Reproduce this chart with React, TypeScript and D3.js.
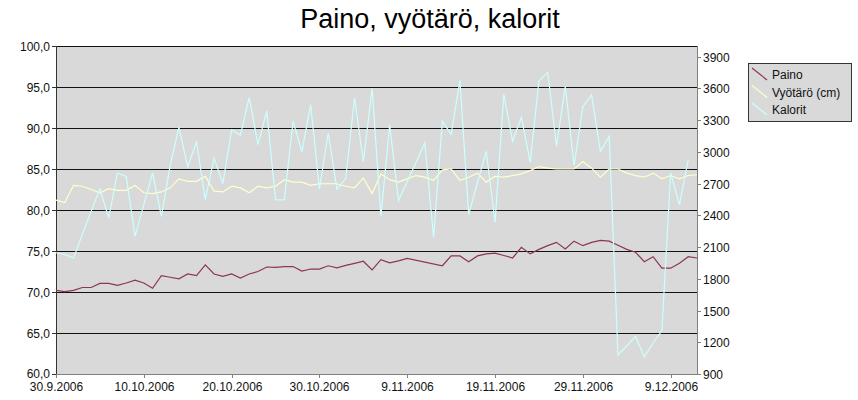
import React, { useEffect, useRef } from "react";
import * as d3 from "d3";

const startDate = new Date(2006, 8, 30);
const endDate = new Date(2006, 11, 12);

const paino: (number | null)[] = [
  70.2, 70.05, 70.2, 70.55, 70.55, 71.05, 71.05, 70.8, 71.1, 71.45,
  71.1, 70.45, 72.0, 71.8, 71.6, 72.2, 72.0, 73.3, 72.2, 71.9,
  72.2, 71.7, 72.2, 72.5, 73.05, 73.0, 73.1, 73.1, 72.55, 72.8,
  72.8, 73.2, 72.95, 73.25, 73.5, 73.75, 72.7, 73.95, 73.55, 73.8,
  74.1, null, null, null, 73.2, 74.4, 74.4, 73.7, 74.4, 74.65,
  74.75, 74.45, 74.15, 75.45, 74.65, 75.2, 75.65, 76.05, 75.25, 76.2,
  75.65, 76.05, 76.3, 76.2, 75.7, 75.2, 74.85, 73.7, 74.3, 72.9,
  72.9, 73.5, 74.3, 74.15,
];

const vyotaro: (number | null)[] = [
  81.2, 80.9, 83.0, 82.9, 82.5, 82.1, 82.6, 82.4, 82.4, 83.0,
  82.1, 82.0, 82.2, 82.7, 83.8, 83.5, 83.5, 84.1, 82.3, 82.2,
  82.9, 82.7, 82.1, 82.9, 82.7, 82.9, 83.7, 83.4, 83.4, 83.0,
  83.2, 83.2, 83.2, 82.9, 82.7, 83.9, 82.0, 84.4, 83.7, 83.4,
  83.8, 84.2, 84.0, 83.6, 84.9, 85.0, 83.6, 84.0, 84.5, 83.4,
  84.1, 84.0, 84.2, 84.4, 84.8, 85.3, 85.1, 85.0, 85.0, 85.0,
  85.9, 85.1, 84.0, 85.0, 85.0, 84.5, 84.2, 84.0, 84.5, 83.8,
  84.2, 83.8, 84.2, 84.3,
];

const kalorit: (number | null)[] = [
  2046, 2028, 1996, 2220, 2437, 2650, 2374, 2800, 2767, 2200,
  2500, 2800, 2390, 2870, 3232, 2855, 3098, 2547, 2940, 2700,
  3209, 3157, 3515, 3067, 3385, 2547, 2545, 3290, 3000, 3445,
  2650, 3178, 2646, 2750, 3511, 2906, 3600, 2390, 3256, 2540,
  2720, 2900, 3083, 2190, 3290, 3165, 3675, 2406, 2710, 3004,
  2335, 3543, 3100, 3327, 2900, 3670, 3752, 3050, 3620, 2870,
  3426, 3538, 3004, 3146, 1082, 1165, 1255, 1060, 1193, 1310,
  2800, 2500, 2925, null,
];

const leftTicks = [60, 65, 70, 75, 80, 85, 90, 95, 100];
const rightTicks = [900, 1200, 1500, 1800, 2100, 2400, 2700, 3000, 3300, 3600, 3900];
const xTickDates = [
  new Date(2006, 8, 30), new Date(2006, 9, 10), new Date(2006, 9, 20), new Date(2006, 9, 30),
  new Date(2006, 10, 9), new Date(2006, 10, 19), new Date(2006, 10, 29), new Date(2006, 11, 9),
];

const seriesNames = ["Paino", "Vyötärö (cm)", "Kalorit"];
const seriesColors = ["#8E3457", "#FFFFCC", "#CCFFFF"];

const W = 858, H = 400;
const M = { left: 56, right: 697, top: 46, bottom: 374 };
const FONT = "'Liberation Sans', Arial, sans-serif";

export default function App() {
  const ref = useRef<SVGSVGElement>(null);
  useEffect(() => {
    const svg = d3.select(ref.current);
    svg.selectAll("*").remove();

    const x = d3.scaleTime().domain([startDate, endDate]).range([M.left, M.right]);
    const yL = d3.scaleLinear().domain([60, 100]).range([M.bottom, M.top]);
    const yR = d3.scaleLinear().domain([900, 4000]).range([M.bottom, M.top]);
    const dateAt = (i: number) => d3.timeDay.offset(startDate, i);

    svg.append("rect").attr("width", W).attr("height", H).attr("fill", "#fff");

    svg.append("rect")
      .attr("x", M.left).attr("y", M.top)
      .attr("width", M.right - M.left).attr("height", M.bottom - M.top)
      .attr("fill", "#D9D9D9");

    // gridlines
    svg.append("g").selectAll("line").data(leftTicks.filter(t => t > 60)).join("line")
      .attr("x1", M.left).attr("x2", M.right)
      .attr("y1", d => Math.round(yL(d)) + 0.5).attr("y2", d => Math.round(yL(d)) + 0.5)
      .attr("stroke", "#111").attr("stroke-width", 1);

    // title
    svg.append("text").attr("x", 430).attr("y", 28).attr("text-anchor", "middle")
      .attr("font-family", FONT).attr("font-size", 27).attr("fill", "#000")
      .text("Paino, vyötärö, kalorit");

    // left axis
    const gl = svg.append("g");
    gl.append("line").attr("x1", M.left + 0.5).attr("x2", M.left + 0.5)
      .attr("y1", M.top).attr("y2", M.bottom + 1).attr("stroke", "#333");
    leftTicks.forEach(t => {
      const yy = Math.round(yL(t)) + 0.5;
      gl.append("line").attr("x1", M.left - 4).attr("x2", M.left).attr("y1", yy).attr("y2", yy).attr("stroke", "#333");
      gl.append("text").attr("x", M.left - 6).attr("y", yy - (t === 60 ? 1 : 0)).attr("dy", "0.35em")
        .attr("text-anchor", "end").attr("font-family", FONT).attr("font-size", 12).attr("fill", "#111")
        .text(d3.format(".1f")(t).replace(".", ","));
    });

    // right axis
    const gr = svg.append("g");
    gr.append("line").attr("x1", M.right + 0.5).attr("x2", M.right + 0.5)
      .attr("y1", M.top).attr("y2", M.bottom + 1).attr("stroke", "#808080");
    rightTicks.forEach(t => {
      const yy = Math.round(yR(t)) + 0.5;
      gr.append("line").attr("x1", M.right).attr("x2", M.right + 4).attr("y1", yy).attr("y2", yy).attr("stroke", "#808080");
      gr.append("text").attr("x", M.right + 6).attr("y", yy).attr("dy", "0.35em")
        .attr("text-anchor", "start").attr("font-family", FONT).attr("font-size", 12).attr("fill", "#111")
        .text(String(t));
    });

    // bottom axis
    const gb = svg.append("g");
    gb.append("line").attr("x1", M.left).attr("x2", M.right + 1)
      .attr("y1", M.bottom + 0.5).attr("y2", M.bottom + 0.5).attr("stroke", "#808080");
    const fmt = (d: Date) => `${d.getDate()}.${d.getMonth() + 1}.${d.getFullYear()}`;
    xTickDates.forEach(d => {
      const xx = Math.round(x(d)) + 0.5;
      gb.append("line").attr("x1", xx).attr("x2", xx).attr("y1", M.bottom).attr("y2", M.bottom + 4).attr("stroke", "#808080");
      gb.append("text").attr("x", xx).attr("y", M.bottom + 17)
        .attr("text-anchor", "middle").attr("font-family", FONT).attr("font-size", 12).attr("fill", "#111")
        .text(fmt(d));
    });

    // series
    const mk = (vals: (number | null)[]) =>
      vals.map((v, i) => ({ d: dateAt(i), v })).filter(p => p.v !== null) as { d: Date; v: number }[];
    const lineL = d3.line<{ d: Date; v: number }>().x(p => x(p.d)).y(p => yL(p.v));
    const lineR = d3.line<{ d: Date; v: number }>().x(p => x(p.d)).y(p => yR(p.v));

    svg.append("path").attr("d", lineL(mk(paino))).attr("fill", "none")
      .attr("stroke", seriesColors[0]).attr("stroke-width", 1.2);
    svg.append("path").attr("d", lineL(mk(vyotaro))).attr("fill", "none")
      .attr("stroke", seriesColors[1]).attr("stroke-width", 1.2);
    svg.append("path").attr("d", lineR(mk(kalorit))).attr("fill", "none")
      .attr("stroke", seriesColors[2]).attr("stroke-width", 1.2);

    // legend
    const lg = svg.append("g");
    lg.append("rect").attr("x", 748.5).attr("y", 63.5).attr("width", 103).attr("height", 58)
      .attr("fill", "#D9D9D9").attr("stroke", "#333");
    seriesNames.forEach((n, i) => {
      const cy = 75 + i * 17.5;
      lg.append("line").attr("x1", 752).attr("y1", cy - 7).attr("x2", 767).attr("y2", cy + 5)
        .attr("stroke", seriesColors[i]).attr("stroke-width", 1.2);
      lg.append("text").attr("x", 772).attr("y", cy).attr("dy", "0.35em")
        .attr("font-family", FONT).attr("font-size", 12).attr("fill", "#111").text(n);
    });
  }, []);

  return (
    <svg ref={ref} width={W} height={H}
      style={{ position: "absolute", left: 0, top: 0, display: "block" }} />
  );
}
